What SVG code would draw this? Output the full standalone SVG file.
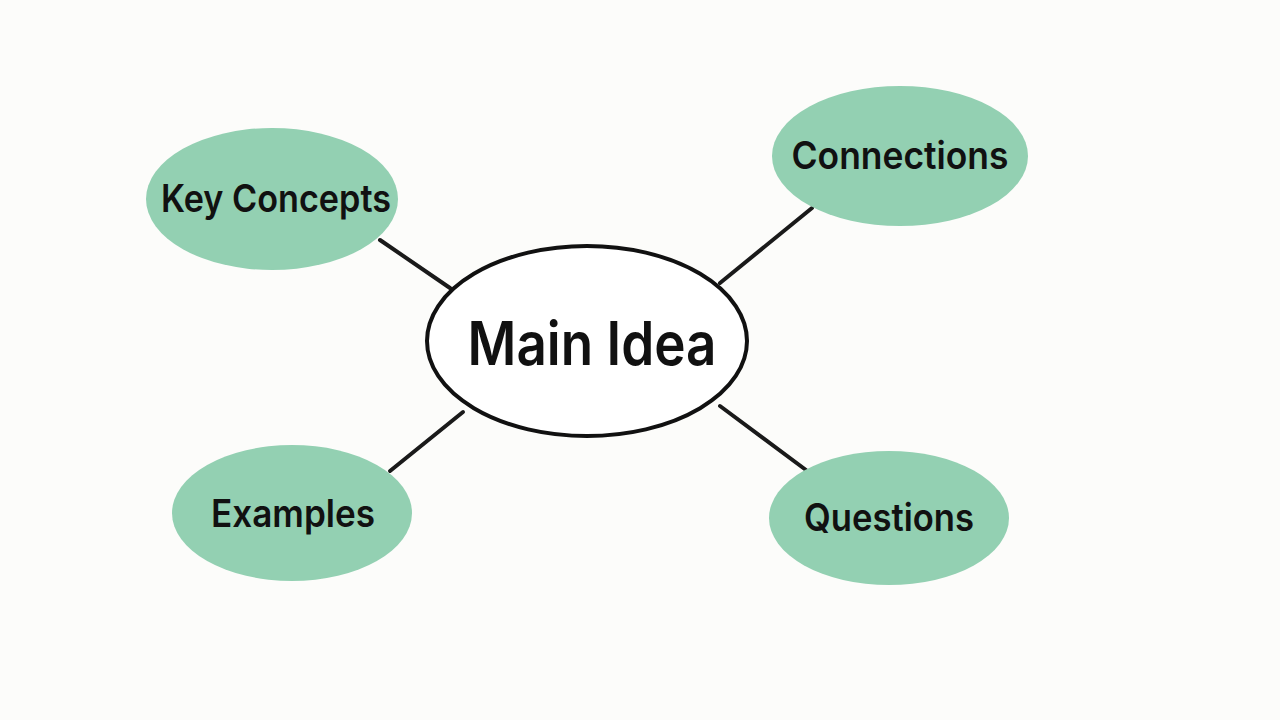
<svg xmlns="http://www.w3.org/2000/svg" width="1280" height="720" viewBox="0 0 1280 720">
<style>
.sub{fill:#93d0b2;stroke:none}
.main{fill:#ffffff;stroke:#111111;stroke-width:4}
.lbl{font-family:Inter,"Liberation Sans",Arial,sans-serif;font-weight:600;fill:#111111;text-anchor:middle}
.conn line{stroke:#1a1a1a;stroke-width:4;stroke-linecap:round}
</style>
<rect width="1280" height="720" fill="#fcfcfa"/>
<g class="conn" id="connectors">
<line x1="380" y1="240" x2="450" y2="288"/>
<line x1="720" y1="283" x2="812" y2="208"/>
<line x1="463" y1="412" x2="390" y2="471"/>
<line x1="720" y1="406" x2="806" y2="470"/>
</g>
<g id="main-idea">
<ellipse class="main" cx="587" cy="341" rx="160" ry="95"/>
<text class="lbl" x="592" y="365" font-size="60" textLength="249" lengthAdjust="spacingAndGlyphs">Main Idea</text>
</g>
<g id="key-concepts">
<ellipse class="sub" cx="272" cy="199" rx="126" ry="71"/>
<text class="lbl" x="276" y="212" font-size="38" textLength="230" lengthAdjust="spacingAndGlyphs">Key Concepts</text>
</g>
<g id="connections">
<ellipse class="sub" cx="900" cy="156" rx="128" ry="70"/>
<text class="lbl" x="900" y="169" font-size="38" textLength="217" lengthAdjust="spacingAndGlyphs">Connections</text>
</g>
<g id="examples">
<ellipse class="sub" cx="292" cy="513" rx="120" ry="68"/>
<text class="lbl" x="293" y="527" font-size="38" textLength="164" lengthAdjust="spacingAndGlyphs">Examples</text>
</g>
<g id="questions">
<ellipse class="sub" cx="889" cy="518" rx="120" ry="67"/>
<text class="lbl" x="889" y="531" font-size="38" textLength="170" lengthAdjust="spacingAndGlyphs">Questions</text>
</g>
</svg>
